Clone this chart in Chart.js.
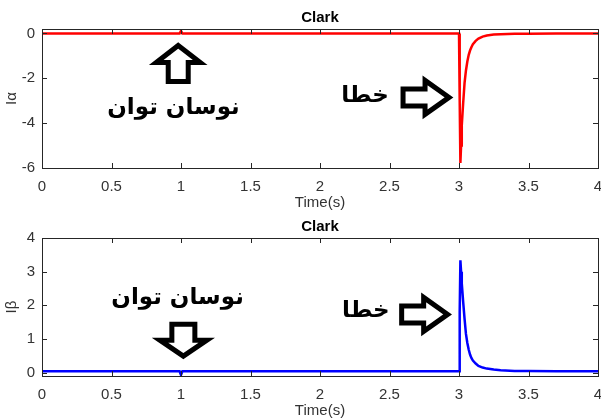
<!DOCTYPE html>
<html>
<head>
<meta charset="utf-8">
<script src="https://cdn.jsdelivr.net/npm/chart.js@4.4.1/dist/chart.umd.min.js"></script>
<style>
  body { margin: 0; background: #fff; }
  #wrap { position: relative; width: 601px; height: 418px; }
  .box { position: absolute; left: 0; width: 601px; }
</style>
</head>
<body>
<div id="wrap">
  <div class="box" style="top:0;height:210px"><canvas id="top"></canvas></div>
  <div class="box" style="top:210px;height:208px"><canvas id="bottom"></canvas></div>
</div>
<script>
// time (s), shared by both signals
var timeS = [0, 0.5, 0.99, 1.0, 1.01, 1.5, 2.0, 2.5, 2.995, 3.0, 3.005, 3.01, 3.015, 3.02,
             3.03, 3.04, 3.05, 3.06, 3.07, 3.08, 3.09, 3.1, 3.12, 3.14, 3.17, 3.2, 3.25,
             3.3, 3.4, 3.5, 3.7, 4.0];
var iAlpha = [0, 0, 0, 0.12, 0, 0, 0, 0, 0, 0, -3.0, -5.78, -5.0, -4.1,
              -3.1, -2.2, -1.65, -1.25, -0.95, -0.75, -0.6, -0.48, -0.33, -0.23, -0.14, -0.09, -0.05,
              -0.03, -0.015, -0.01, 0, 0];
var iBeta = [0.04, 0.04, 0.04, -0.07, 0.04, 0.04, 0.04, 0.04, 0.04, 0.04, 1.8, 3.34, 3.0, 2.65,
             2.1, 1.6, 1.15, 0.88, 0.68, 0.53, 0.43, 0.36, 0.27, 0.2, 0.15, 0.12, 0.09,
             0.07, 0.05, 0.045, 0.04, 0.04];
var xTicks = [0, 0.5, 1, 1.5, 2, 2.5, 3, 3.5, 4];
var yTicksTop = [-6, -4, -2, 0];
var yTicksBottom = [0, 1, 2, 3, 4];

var textColor = '#333';
var axisFont = { family: 'Liberation Sans, Arial, sans-serif', size: 15 };

// annotations (arrows + farsi labels), anchored in data units
var notesTop = [
  { type: 'text', x: 0.946, y: -3.32, text: 'نوسان توان' },
  { type: 'arrow', dir: 'up', x: 0.98, y: -0.40 },
  { type: 'text', x: 2.324, y: -2.79, text: 'خطا' },
  { type: 'arrow', dir: 'right', x: 2.95, y: -2.85 }
];
var notesBottom = [
  { type: 'text', x: 0.975, y: 2.22, text: 'نوسان توان' },
  { type: 'arrow', dir: 'down', x: 1.017, y: 0.40 },
  { type: 'text', x: 2.33, y: 1.83, text: 'خطا' },
  { type: 'arrow', dir: 'right', x: 2.94, y: 1.73 }
];

var arrowShapes = {
  up:    [[0,3],[22,20],[10,20],[10,39],[-10,39],[-10,20],[-22,20]],
  down:  [[0,-3],[23.5,-19],[11.5,-19],[11.5,-35],[-11.5,-35],[-11.5,-19],[-23.5,-19]],
  right: [[-3,0],[-27,17],[-27,8.5],[-49,8.5],[-49,-8.5],[-27,-8.5],[-27,-17]]
};

var matlabBox = {
  id: 'matlabBox',
  afterDraw: function(chart) {
    var ctx = chart.ctx, a = chart.chartArea;
    var xs = chart.scales.x, ys = chart.scales.y;
    var tl = 5;
    ctx.save();
    ctx.strokeStyle = '#262626';
    ctx.lineWidth = 1;
    ctx.beginPath();
    xs.ticks.forEach(function(t) {
      var px = Math.round(xs.getPixelForValue(t.value)) + 0.5;
      ctx.moveTo(px, a.bottom); ctx.lineTo(px, a.bottom - tl);
      ctx.moveTo(px, a.top); ctx.lineTo(px, a.top + tl);
    });
    ys.ticks.forEach(function(t) {
      var py = Math.round(ys.getPixelForValue(t.value)) + 0.5;
      ctx.moveTo(a.left, py); ctx.lineTo(a.left + tl, py);
      ctx.moveTo(a.right, py); ctx.lineTo(a.right - tl, py);
    });
    ctx.stroke();
    ctx.strokeRect(Math.round(a.left) + 0.5, Math.round(a.top) + 0.5,
                   Math.round(a.right - a.left), Math.round(a.bottom - a.top));

    var notes = chart.options.plugins.matlabBox.notes;
    notes.forEach(function(n) {
      var px = xs.getPixelForValue(n.x), py = ys.getPixelForValue(n.y);
      if (n.type === 'text') {
        ctx.fillStyle = '#000';
        ctx.font = 'bold 23px "DejaVu Sans", sans-serif';
        ctx.textAlign = 'center';
        ctx.textBaseline = 'middle';
        ctx.direction = 'rtl';
        ctx.fillText(n.text, px, py);
      } else {
        var pts = arrowShapes[n.dir];
        ctx.beginPath();
        pts.forEach(function(p, i) {
          if (i === 0) ctx.moveTo(px + p[0], py + p[1]);
          else ctx.lineTo(px + p[0], py + p[1]);
        });
        ctx.closePath();
        ctx.fillStyle = '#fff';
        ctx.fill();
        ctx.lineWidth = 5;
        ctx.lineJoin = 'miter';
        ctx.strokeStyle = '#000';
        ctx.stroke();
      }
    });
    ctx.restore();
  }
};

function makeChart(id, values, color, yLabel, yMin, yMax, yTicks, notes, titlePad) {
  var pts = timeS.map(function(t, i) { return { x: t, y: values[i] }; });
  return new Chart(document.getElementById(id), {
    type: 'line',
    data: {
      datasets: [{
        data: pts,
        borderColor: color,
        borderWidth: 2.5,
        pointRadius: 0,
        tension: 0,
        fill: false
      }]
    },
    options: {
      responsive: true,
      maintainAspectRatio: false,
      animation: false,
      layout: { padding: { left: 0, right: 3, top: 0, bottom: 0 } },
      plugins: {
        legend: { display: false },
        tooltip: { enabled: false },
        title: {
          display: true,
          text: 'Clark',
          fullSize: false,
          color: '#000',
          font: { family: 'Liberation Sans, Arial, sans-serif', size: 15, weight: 'bold' },
          padding: titlePad
        },
        matlabBox: { notes: notes }
      },
      scales: {
        x: {
          type: 'linear',
          min: 0, max: 4,
          afterBuildTicks: function(s) { s.ticks = xTicks.map(function(v) { return { value: v }; }); },
          afterFit: function(s) { s.height = 42; s.paddingLeft = 0; s.paddingRight = 0; },
          grid: { display: false, drawTicks: false },
          border: { display: false },
          ticks: { color: textColor, font: axisFont, padding: 10, maxRotation: 0, autoSkip: false,
                   callback: function(v) { return String(v); } },
          title: { display: true, text: 'Time(s)', color: textColor,
                   font: { family: 'Liberation Sans, Arial, sans-serif', size: 15, lineHeight: 1 },
                   padding: { top: 0, bottom: 0 } }
        },
        y: {
          min: yMin, max: yMax,
          afterBuildTicks: function(s) { s.ticks = yTicks.map(function(v) { return { value: v }; }); },
          afterFit: function(s) { s.width = 42; s.paddingTop = 0; s.paddingBottom = 0; },
          grid: { display: false, drawTicks: false },
          border: { display: false },
          ticks: { color: textColor, font: axisFont, padding: 7,
                   callback: function(v) { return String(v); } },
          title: { display: true, text: yLabel, color: textColor,
                   font: { family: 'Liberation Sans, Arial, sans-serif', size: 15, lineHeight: 1 },
                   padding: { top: 4, bottom: 0 } }
        }
      }
    },
    plugins: [matlabBox]
  });
}

makeChart('top', iAlpha, '#ff0000', 'Iα', -6, 0.2, yTicksTop, notesTop, { top: 9, bottom: 2 });
makeChart('bottom', iBeta, '#0000ff', 'Iβ', -0.1, 4, yTicksBottom, notesBottom, { top: 8, bottom: 2 });
</script>
</body>
</html>
